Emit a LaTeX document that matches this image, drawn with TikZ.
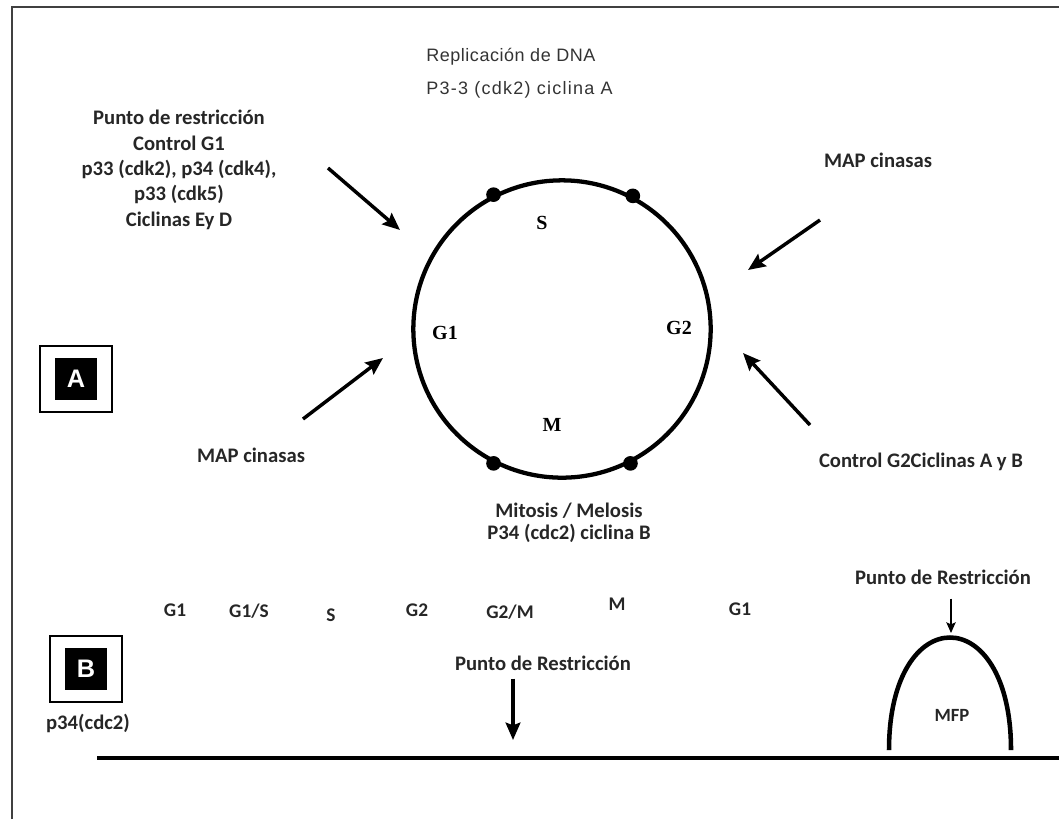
\documentclass[tikz,border=0pt]{standalone}
\usepackage{fontspec}
\setmainfont{Carlito}
\newfontfamily\timesfont{Liberation Serif}
\newfontfamily\screenfont[LetterSpace=3]{Liberation Sans}
\newfontfamily\tagfont{Liberation Sans}
\usetikzlibrary{positioning,arrows.meta}

\tikzset{
	note/.style={font=\bfseries\fontsize{15.5}{19}\selectfont, text=black!85, align=center, inner sep=0pt},
	stagelbl/.style={font=\bfseries\fontsize{14.5}{17}\selectfont, text=black!85, inner sep=0pt},
	phaselbl/.style={font=\timesfont\bfseries\fontsize{15}{17}\selectfont, inner sep=0pt},
	toplbl/.style={font=\screenfont\fontsize{13.5}{16}\selectfont, text=black!80, anchor=west, inner sep=0pt},
	feed/.style={line width=2.6pt, -{Stealth[length=13pt, width=11pt, inset=2pt]}},
	checkpt/.style={circle, fill=black, inner sep=0pt, minimum size=11pt},
	tagout/.style={draw, line width=1.4pt, minimum width=54pt, minimum height=50pt, inner sep=0pt},
	tagin/.style={fill=black, text=white, font=\tagfont\bfseries\fontsize{19}{20}\selectfont,
		minimum width=31pt, minimum height=32pt, inner sep=0pt}
}

\begin{document}
\begin{tikzpicture}[x=0.75pt, y=-0.75pt]
	\useasboundingbox (0,0) rectangle (1059,819);

	% frame
	\draw[line width=1.8pt, black!75] (12,819) -- (12,7) -- (1059,7);

	% Part A: cell cycle
	\node[draw,
		circle,
		line width=3.2pt,
		minimum size=223pt,
		inner sep=0pt
	] (cycle) at (562,329) {};

	\foreach \ang in {62,117,243,297}
		\node[checkpt] at (cycle.\ang) {};

	\node[phaselbl] (ps)  at (542,223) {S};
	\node[phaselbl] (pg1) at (445,333) {G1};
	\node[phaselbl] (pg2) at (679,328) {G2};
	\node[phaselbl] (pm)  at (552,425) {M};

	\node[toplbl] (repl) at (426,57) {Replicación de DNA};
	\node[toplbl, font=\screenfont\addfontfeatures{LetterSpace=7}\fontsize{13.5}{16}\selectfont]
		(cdk2a) at (426,90) {P3-3 (cdk2) ciclina A};

	\node[note] (restr) at (179,170) {Punto de restricción\\Control G1\\p33 (cdk2), p34 (cdk4),\\p33 (cdk5)\\Ciclinas Ey D};
	\node[note] (mapr) at (878,160) {MAP cinasas};
	\node[note] (mapl) at (251,455) {MAP cinasas};
	\node[note] (ctlg2) at (921,462) {Control G2Ciclinas A y B};
	\node[note, font=\bfseries\fontsize{15.5}{16.5}\selectfont] (mitosis) at (569,523) {Mitosis / Melosis\\P34 (cdc2) ciclina B};

	% arrows into the cycle
	\coordinate (nwtail) at (328,168);
	\coordinate (nwhead) at (400,230);
	\coordinate (netail) at (820,220);
	\coordinate (nehead) at (748,270);
	\coordinate (swtail) at (303,419);
	\coordinate (swhead) at (383,358);
	\coordinate (setail) at (810,425);
	\coordinate (sehead) at (743,353);
	\draw[feed] (nwtail) -- (nwhead);
	\draw[feed] (netail) -- (nehead);
	\draw[feed] (swtail) -- (swhead);
	\draw[feed] (setail) -- (sehead);

	\node[tagout] (boxa) at (76,379) {};
	\node[tagin] (taga) at (boxa) {A};

	% Part B: p34 activity
	\node[tagout] (boxb) at (86,669) {};
	\node[tagin] (tagb) at (boxb) {B};
	\node[note] (p34) at (88,723) {p34(cdc2)};

	\node[stagelbl] (sg1)  at (175,610) {G1};
	\node[stagelbl] (sg1s) at (249,611) {G1/S};
	\node[stagelbl] (ss)   at (331,615) {S};
	\node[stagelbl] (sg2)  at (417,610) {G2};
	\node[stagelbl] (sg2m) at (510,612) {G2/M};
	\node[stagelbl] (sm)   at (617,604) {M};
	\node[stagelbl] (sg1b) at (740,609) {G1};

	\coordinate (axisl) at (97,758);
	\coordinate (axisr) at (1059,758);
	\draw[line width=3.2pt] (axisl) -- (axisr);

	\node[note] (rpmid) at (543,663) {Punto de Restricción};
	\coordinate (midhead) at (513,740);
	\draw[feed] (rpmid.south -| midhead) ++(0,8) -- (midhead);

	\coordinate (archl) at (889,750);
	\coordinate (archr) at (1011,750);
	\draw[line width=3.4pt] (archl) .. controls (889,600) and (1011,600) .. (archr);
	\node[note, font=\bfseries\fontsize{14}{16}\selectfont] (mfp) at (952,715) {MFP};

	\node[note] (rpright) at (943,577) {Punto de Restricción};
	\coordinate (archtop) at (951,633);
	\draw[line width=1.3pt, -{Stealth[length=8pt, width=7pt, inset=1.5pt]}] (rpright.south -| archtop) ++(0,14) -- (archtop);
\end{tikzpicture}
\end{document}
